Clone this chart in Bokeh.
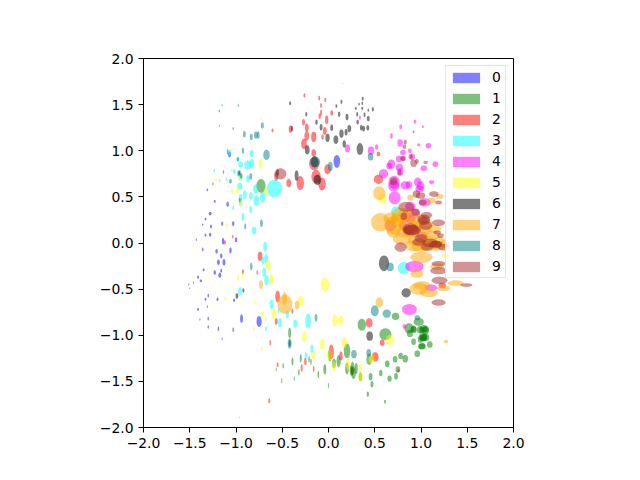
from bokeh.plotting import figure
from bokeh.models import Range1d, FixedTicker, Legend, LegendItem
from bokeh.embed import file_html
from bokeh.resources import INLINE

labels = ["0", "1", "2", "3", "4", "5", "6", "7", "8", "9"]
colors = ["blue", "green", "red", "cyan", "magenta", "yellow", "black", "orange", "teal", "brown"]
ticks = [-2.0, -1.5, -1.0, -0.5, 0.0, 0.5, 1.0, 1.5, 2.0]
tick_text = ["\u22122.0", "\u22121.5", "\u22121.0", "\u22120.5", "0.0", "0.5", "1.0", "1.5", "2.0"]

# each entry: centre x, centre y, width, height of one ellipse
class_0 = [(-1.09,.42,.025,.06),(-1.23,.45,.02,.03),(-1.28,.32,.03,.04),(-1.33,.26,.02,.03),(-1.36,.2,.015,.02),
(-1.27,.18,.02,.04),(-1.15,.21,.02,.045),(-1.03,.21,.025,.05),(-1.33,.085,.02,.03),(-1.28,.09,.025,.04),
(-1.43,.035,.01,.03),(-1.14,.02,.025,.07),(-1.0,.035,.025,.055),(-1.36,-.07,.015,.04),(-1.21,-.09,.025,.05),
(-1.06,-.08,.025,.06),(-1.16,-.14,.025,.05),(-1.19,-.21,.03,.06),(-1.13,-.21,.03,.07),(-1.35,-.29,.02,.035),
(-1.23,-.32,.025,.05),(-1.16,-.3,.02,.04),(-1.175,-.35,.03,.06),(-1.41,-.37,.02,.035),(-1.38,-.41,.025,.03),
(-1.46,-.43,.01,.025),(-1.51,-.45,.01,.025),(-1.5,-.49,.01,.015),(-1.3,-.57,.015,.04),(-1.33,-.61,.02,.03),
(-1.2,-.61,.02,.04),(-1.02,-.62,.02,.035),(-1.31,-.69,.01,.03),(-1.41,-.72,.02,.03),(-1.39,-.83,.01,.025),
(-1.3,-.82,.015,.04),(-.94,-.82,.03,.09),(-.75,-.85,.055,.12),(-1.3,-.91,.015,.035),(-1.19,-.93,.015,.05),
(-1.03,-.94,.015,.05),(-1.15,-1.04,.01,.03),(-1.31,.575,.015,.03),(-1.07,.96,.03,.06),(.09,.885,.07,.14)]
class_1 = [(-.42,-.975,.03,.11),(-.39,-1.285,.02,.08),(-.30,-1.25,.02,.09),(-.21,-1.26,.015,.07),(-.19,-1.29,.015,.07),
(-.565,-1.37,.01,.04),(-.49,-1.33,.015,.06),(-.32,-1.40,.015,.07),(-.11,-1.425,.015,.08),(-.505,-1.49,.01,.06),
(-.37,-1.47,.01,.05),(-.04,-1.37,.03,.11),(0,-1.545,.01,.06),(.015,-1.22,.04,.13),(.06,-1.305,.04,.1),
(.11,-1.28,.045,.13),(.20,-1.17,.07,.16),(.2,-1.36,.04,.13),(.26,-1.36,.045,.14),(.27,-1.41,.05,.13),
(.3,-1.36,.03,.12),(.25,-1.385,.04,.11),(.345,-1.45,.035,.1),(.44,-1.26,.06,.12),(.455,-1.45,.04,.08),
(.47,-1.53,.03,.07),(.425,-1.64,.025,.06),(.61,-1.72,.02,.04),(.565,-1.41,.035,.07),(.635,-1.31,.05,.075),
(.66,-1.47,.045,.07),(.72,-1.26,.05,.07),(.73,-1.445,.04,.07),(.75,-1.37,.05,.07),(.78,-1.225,.05,.07),
(.83,-1.255,.06,.08),(.96,-1.2,.06,.07),(.92,-1.07,.05,.07),(.88,-.98,.065,.08),(.87,-.925,.1,.11),
(.92,-.93,.055,.07),(.975,-.855,.11,.085),(.99,-.94,.07,.08),(1.05,-.935,.07,.07),(1.01,-.945,.06,.07),
(1.03,-1.02,.08,.08),(1.05,-1.025,.08,.08),(.995,-1.045,.06,.07),(1.095,-1.1,.06,.07),(1.01,-1.12,.08,.07),
(.36,-.885,.09,.13),(.615,-.99,.13,.13),(.725,-.795,.08,.08),(-.73,.62,.1,.15),
(1.03,-.93,.08,.08),(1.02,-1.03,.07,.07),(1.02,-1.02,.09,.08),(1.01,-1.12,.07,.06),(.92,-.94,.07,.07),(1.05,-.95,.07,.08)]
class_2 = [(-.26,1.6,.02,.045),(-.1,1.57,.02,.05),(-.035,1.55,.02,.05),(-.08,1.49,.02,.055),(-.08,1.415,.02,.065),
(-.095,1.375,.025,.065),(.035,1.41,.03,.06),(-.02,1.335,.035,.095),(-.27,1.31,.03,.07),(-.235,1.25,.04,.09),
(-.41,1.235,.04,.08),(-.605,1.22,.02,.04),(-.04,1.215,.04,.085),(-.235,1.16,.05,.1),(-.16,1.15,.055,.11),
(-.065,1.15,.025,.06),(-.265,1.075,.06,.11),(-.16,.975,.05,.08),(-.155,.86,.11,.14),(-.01,.8,.07,.11),
(-.135,.72,.1,.15),(-.07,.64,.08,.14),(-.305,.65,.08,.15),(-.43,.65,.05,.09),(-.565,.72,.04,.09),
(-1.135,.77,.015,.04),(-1.25,.64,.015,.035),(.54,.965,.04,.05),(.54,.69,.1,.1),(-1.035,.07,.015,.04),
(-1.12,.005,.02,.05),(-.74,-.145,.05,.1),(-.55,-.58,.05,.13),(-.565,-.85,.03,.07),(-.63,-1.08,.015,.06),
(-.55,-1.32,.02,.05),(-.29,-1.355,.02,.08),(-.25,-1.285,.025,.08),(-.16,-1.365,.015,.07),(.03,-1.18,.055,.16),
(.135,-1.225,.035,.1),(.44,-.865,.07,.1),(.58,-1.08,.05,.07),(.505,-1.235,.07,.1),(.25,-1.385,.02,.06),
(.755,-1.385,.02,.04),(-.64,-1.71,.02,.055),(1.23,-.46,.08,.06)]
class_3 = [(-.585,.59,.17,.19),(-.71,.5,.06,.12),(-.78,.46,.06,.12),(-.79,.585,.05,.1),(-.84,.51,.04,.08),
(-.905,.525,.04,.09),(-.87,.695,.04,.08),(-.83,.97,.04,.075),(-.83,.86,.05,.1),(-.875,.845,.07,.1),
(-.95,.85,.05,.07),(-.98,.91,.03,.05),(-1.07,.98,.03,.06),(-1.02,.775,.03,.05),(-.97,.75,.025,.05),
(-.95,.71,.04,.07),(-.96,.615,.05,.08),(-.95,.495,.04,.07),(-.95,.44,.035,.08),(-1.03,.38,.02,.05),
(-.84,.36,.03,.08),(-1.175,.675,.015,.04),(-1.105,.69,.015,.03),(-1.235,.785,.015,.04),(-.925,.285,.03,.08),
(-.805,.135,.05,.08),(-.685,-.04,.04,.1),(-.71,-.19,.03,.09),(-.675,-.17,.04,.1),(-.695,-.315,.04,.1),
(-.67,-.405,.05,.11),(-.955,-.525,.04,.09),(-.615,-.665,.04,.1),(-.445,-.77,.03,.09),(-.525,-.865,.04,.1),
(-.54,-.73,.015,.05),(-.36,-.875,.04,.09),(-.22,-.845,.06,.16),(-.675,-.93,.02,.05),(-.18,-1.145,.03,.09),
(-.245,-1.22,.025,.08),(.73,.34,.11,.11),(.815,-.27,.13,.13)]
class_4 = [(.935,1.315,.03,.04),(.78,1.26,.03,.055),(1.02,1.26,.02,.03),(.68,1.16,.03,.06),(.975,1.065,.03,.035),
(.775,1.085,.06,.08),(1.08,1.055,.06,.06),(.52,1.04,.035,.06),(.205,1.025,.055,.085),(.46,1.0,.07,.09),
(.88,1.0,.04,.05),(.805,.98,.06,.06),(.9,.935,.07,.07),(.805,.915,.06,.06),(.76,.91,.06,.07),
(1.155,.855,.06,.06),(.655,.835,.06,.07),(.68,.855,.08,.1),(.765,.82,.08,.08),(1.03,.81,.07,.06),
(.775,.77,.07,.08),(.595,.75,.1,.1),(.71,.66,.12,.14),(.705,.62,.12,.12),(.83,.625,.1,.09),
(.87,.63,.07,.08),(.965,.66,.08,.1),(.995,.62,.08,.1),(.985,.585,.09,.07),(1.115,.66,.06,.04),
(.715,.49,.13,.14),(1.04,.44,.13,.09),(.885,.395,.11,.1),(.93,.32,.12,.1),(.83,.28,.12,.11),
(.67,.19,.12,.12),(.805,.185,.09,.09),(.885,.26,.11,.1),(1.01,.08,.12,.08),(.93,-.255,.2,.12),
(1.11,-.485,.13,.07),(.875,-.72,.16,.12),(.82,-.905,.04,.05),(.34,1.36,.02,.05),(-.77,-.32,.02,.05)]
class_5 = [(-.04,-.45,.09,.15),(-.62,-.395,.05,.11),(-.65,-.245,.05,.12),(-.93,-.35,.02,.07),(-.975,-.375,.02,.07),
(-1.1,.19,.02,.05),(-1.115,-.6,.02,.04),(-.795,-.64,.015,.05),(-.3,-.63,.06,.11),(-.59,-.77,.05,.11),
(-.72,-.785,.03,.08),(-.68,-.82,.015,.06),(-.81,-.93,.02,.05),(-.26,-1.02,.05,.11),(-.95,.44,.03,.07),
(-.72,-1.15,.015,.06),(-.07,-1.095,.055,.12),(.07,-.84,.055,.13),(.135,-.84,.06,.09),(.17,-1.08,.06,.12),
(.01,-1.215,.06,.12),(-.165,-1.215,.04,.09),(.21,-1.315,.05,.12),(.06,-1.34,.04,.11),(.345,-1.355,.035,.09),
(.345,-1.45,.05,.09),(.665,-1.05,.09,.11),(.465,-1.26,.06,.1),(-.735,.855,.04,.1),(-.81,1.07,.015,.04),
(-.73,1.34,.01,.03),(-1.215,.69,.02,.04),(-1.05,.79,.02,.03),(-1.045,.56,.025,.05),(-.985,.575,.03,.07),
(-.96,.71,.03,.07),(-.675,.56,.04,.09),(.585,.48,.09,.1),(1.3,-.135,.15,.06)]
class_6 = [(.155,1.73,.005,.01),(.37,1.565,.02,.04),(.365,1.515,.015,.04),(.33,1.505,.015,.03),(.295,1.46,.02,.03),
(.365,1.46,.02,.035),(.43,1.44,.015,.035),(.48,1.45,.02,.05),(.14,1.53,.02,.045),(.085,1.485,.02,.04),
(-.415,1.515,.02,.045),(-.24,1.395,.02,.05),(.115,1.395,.025,.06),(.2,1.365,.03,.07),(-.13,1.31,.025,.06),
(.31,1.395,.02,.05),(.39,1.39,.02,.05),(.43,1.35,.03,.06),(.315,1.31,.025,.05),(-.08,1.255,.03,.07),
(.035,1.25,.03,.07),(.225,1.24,.04,.08),(.19,1.2,.03,.07),(.14,1.185,.045,.09),(-.01,1.14,.045,.09),
(.08,1.12,.05,.09),(.17,1.075,.035,.08),(-.23,1.01,.05,.1),(.34,1.02,.07,.13),(.355,1.25,.03,.06),
(.38,1.24,.03,.06),(.425,1.25,.03,.06),(-.395,1.24,.02,.06),(-.15,.88,.08,.12),(-.345,.73,.04,.11),
(-.12,.685,.08,.11),(-.55,.765,.03,.07),(-.96,.76,.02,.05),(-.42,-1.09,.02,.07),(-.99,-.575,.03,.06),
(-.92,-.515,.02,.05),(.6,-.22,.11,.17),(.84,-.54,.1,.1),(.445,-1.01,.07,.1)]
class_7 = [(.56,.225,.2,.2),(.705,.19,.2,.2),(.795,.045,.2,.13),(.67,.265,.15,.13),(.78,.3,.2,.16),
(.87,.19,.2,.15),(.975,.245,.18,.14),(1.005,-.155,.24,.12),(.955,-.33,.14,.09),(1.175,-.255,.15,.07),
(1.01,-.46,.18,.09),(.975,-.495,.2,.13),(1.085,-.54,.2,.09),(1.245,-.49,.14,.06),(1.375,-.435,.17,.06),
(.55,-.645,.08,.11),(.995,-.045,.2,.1),(1.105,.08,.2,.1),(1.175,-.03,.18,.1),(1.245,-.01,.13,.07),
(1.14,.155,.16,.08),(1.03,.135,.15,.1),(.925,-.03,.19,.12),(.55,.54,.13,.15),(.885,.49,.065,.065),
(1.115,.46,.09,.06),(1.2,.505,.08,.05),(.85,.3,.2,.15),(.74,.24,.15,.15),(-.47,-.665,.16,.21),
(-.475,-.6,.05,.14),(-.34,-.675,.05,.09),(-.73,-.45,.04,.09),(1.27,-1.07,.05,.03),(.49,-1.24,.03,.06),
(.9,.13,.2,.14),(1.03,.2,.2,.13),(.96,.03,.2,.12),(1.1,-.03,.22,.11),(1.08,.03,.16,.09),(.82,.12,.16,.12),(.7,.12,.14,.12),(1.2,.03,.12,.07)]
class_8 = [(-1.15,1.495,.01,.03),(-.975,1.49,.012,.03),(-1.18,1.43,.015,.03),(-1.18,1.27,.01,.025),(-1.03,1.24,.015,.035),
(-.715,1.275,.03,.07),(-.91,1.18,.03,.07),(-.835,1.15,.03,.07),(-.785,1.17,.04,.08),(-.76,1.17,.03,.08),
(-1.09,.99,.02,.06),(-.925,1.0,.025,.065),(-.67,.955,.07,.11),(-.98,.905,.02,.05),(-.975,.755,.02,.07),
(-.945,.73,.03,.06),(-.84,.72,.03,.07),(-1.06,.67,.03,.05),(-.96,.465,.02,.05),(-.145,.88,.11,.12),
(.02,.83,.05,.1),(.455,.935,.06,.08),(-.9,.18,.02,.07),(-.725,.215,.03,.08),(-.835,-.255,.025,.08),
(-.135,-.81,.03,.08),(-.42,-1.09,.04,.11),(.275,-1.205,.06,.09),(.435,-1.19,.05,.08),(.5,-.735,.085,.12),
(.63,-.765,.09,.09),(.96,-.81,.06,.055),(.665,-.26,.08,.09),(-.96,-1.89,.005,.015)]
class_9 = [(.83,1.095,.035,.05),(.82,1.045,.04,.05),(.92,1.205,.02,.03),(1.05,.875,.05,.035),(.805,.915,.05,.05),
(.92,.865,.07,.08),(.955,.885,.04,.05),(.77,.765,.04,.06),(.895,.935,.03,.05),(.705,.67,.08,.08),
(.95,.53,.08,.08),(.995,.515,.1,.07),(1.14,.53,.1,.06),(1.19,.44,.07,.04),(1.02,.44,.08,.06),
(.84,.39,.17,.11),(.94,.335,.09,.08),(.815,.29,.07,.08),(.885,.155,.16,.12),(1.19,.22,.14,.07),
(1.05,.19,.14,.09),(1.03,.26,.14,.09),(.9,.135,.17,.11),(1.06,.3,.12,.07),(1.21,.08,.07,.05),
(1.175,.115,.08,.04),(.78,-.045,.13,.1),(.975,.01,.14,.08),(1.155,-.015,.14,.08),(1.065,-.045,.13,.08),
(1.245,-.045,.13,.07),(1.19,-.3,.18,.08),(1.19,-.225,.15,.06),(1.2,-.405,.17,.08),(1.49,-.455,.13,.04),
(1.19,-.645,.15,.07),(-.52,.75,.13,.12),(-.925,-.31,.02,.05),(-.39,-.74,.02,.06),
(1.03,.24,.13,.09),(.9,.14,.2,.11),(1.1,0.0,.17,.09),(1.0,.05,.14,.09),(1.17,-.01,.12,.07)]
classes = [class_0, class_1, class_2, class_3, class_4, class_5, class_6, class_7, class_8, class_9]

p = figure(width=624, height=464, output_backend="svg", toolbar_location=None,
           x_range=Range1d(-2, 2), y_range=Range1d(-2, 2),
           min_border_left=143, min_border_right=111, min_border_top=58, min_border_bottom=37)
p.grid.visible = False
p.outline_line_color = "black"
p.outline_line_width = 1
p.background_fill_color = "white"
for ax in (p.xaxis[0], p.yaxis[0]):
    ax.ticker = FixedTicker(ticks=ticks)
    ax.major_label_overrides = dict(zip(ticks, tick_text))
    ax.major_label_text_font = "DejaVu Sans"
    ax.major_label_text_font_size = "13.9px"
    ax.major_label_text_color = "black"
    ax.axis_line_color = "black"
    ax.major_tick_line_color = "black"
    ax.major_tick_in = 0
    ax.major_tick_out = 5
    ax.minor_tick_line_color = None
    ax.major_label_standoff = 5

items = []
for lab, col, pts in zip(labels, colors, classes):
    xs, ys, ws, hs = zip(*pts)
    p.ellipse(x=list(xs), y=list(ys), width=list(ws), height=list(hs),
              fill_color=col, fill_alpha=0.5, line_color=col, line_alpha=0.1, line_width=0.5)
    dummy = p.quad(left=[float("nan")], right=[float("nan")], top=[float("nan")], bottom=[float("nan")],
                   fill_color=col, fill_alpha=0.5, line_color=None)
    items.append(LegendItem(label=lab, renderers=[dummy]))

legend = Legend(items=items, location="top_right", glyph_width=34, glyph_height=13, label_standoff=9,
                label_text_font="DejaVu Sans", label_text_font_size="13.9px", label_text_color="black",
                label_height=10, label_width=10, spacing=5, padding=3, margin=7,
                border_line_color="#cccccc", border_line_width=1,
                background_fill_color="white", background_fill_alpha=0.8)
p.add_layout(legend, "center")

open("out.html", "w").write(file_html(p, INLINE))
